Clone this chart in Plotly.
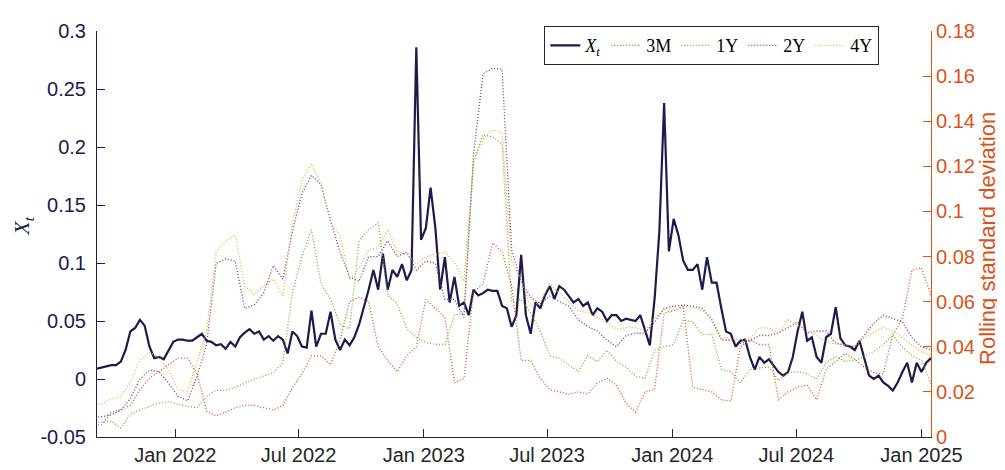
import pandas as pd
import plotly.graph_objects as go

# ---------------- data ----------------
# X_t, weekly observations starting 2021-09-08
xt_start = "2021-09-08"
xt_values = [
    0.009, 0.010, 0.011, 0.012, 0.012, 0.015, 0.025, 0.041, 0.044, 0.051,
    0.046, 0.028, 0.018, 0.019, 0.017, 0.025, 0.032, 0.034, 0.034, 0.033,
    0.033, 0.036, 0.039, 0.033, 0.032, 0.029, 0.030, 0.026, 0.032, 0.028,
    0.036, 0.040, 0.043, 0.039, 0.041, 0.034, 0.037, 0.033, 0.037, 0.034,
    0.022, 0.041, 0.037, 0.028, 0.027, 0.059, 0.028, 0.039, 0.039, 0.058,
    0.034, 0.025, 0.034, 0.029, 0.036, 0.047, 0.061, 0.077, 0.094, 0.077,
    0.108, 0.077, 0.094, 0.088, 0.099, 0.085, 0.094, 0.286, 0.120, 0.130,
    0.165, 0.130, 0.077, 0.105, 0.066, 0.088, 0.063, 0.066, 0.055, 0.077,
    0.072, 0.074, 0.077, 0.076, 0.076, 0.063, 0.061, 0.045, 0.055, 0.107,
    0.055, 0.039, 0.066, 0.061, 0.072, 0.080, 0.069, 0.080, 0.077, 0.072,
    0.066, 0.069, 0.063, 0.066, 0.055, 0.061, 0.058, 0.050, 0.055, 0.055,
    0.050, 0.052, 0.051, 0.050, 0.055, 0.041, 0.029, 0.069, 0.127, 0.238,
    0.110, 0.138, 0.124, 0.102, 0.094, 0.094, 0.099, 0.077, 0.105, 0.083,
    0.083, 0.061, 0.041, 0.039, 0.028, 0.033, 0.034, 0.019, 0.008, 0.019,
    0.014, 0.017, 0.011, 0.006, 0.003, 0.006, 0.019, 0.041, 0.058, 0.033,
    0.036, 0.019, 0.014, 0.036, 0.039, 0.062, 0.035, 0.029, 0.028, 0.025,
    0.033, 0.019, 0.003, 0.000, 0.003, -0.003, -0.006, -0.010, -0.003, 0.006,
    0.014, -0.003, 0.014, 0.006, 0.014, 0.018,
]

# Rolling standard deviations, fortnightly observations starting 2021-09-01
sd_start = "2021-09-01"
sd_3m = [
    0.005, 0.0055, 0.011, 0.012, 0.014, 0.021, 0.026, 0.029, 0.032, 0.035,
    0.035, 0.028, 0.0115, 0.0094, 0.011, 0.013, 0.014, 0.014, 0.013, 0.012,
    0.014, 0.022, 0.028, 0.036, 0.036, 0.032, 0.043, 0.060, 0.062, 0.060,
    0.040, 0.034, 0.029, 0.036, 0.040, 0.061, 0.057, 0.053, 0.024, 0.026,
    0.064, 0.068, 0.086, 0.082, 0.067, 0.034, 0.034, 0.026, 0.021, 0.020,
    0.019, 0.020, 0.019, 0.024, 0.026, 0.023, 0.015, 0.011, 0.020, 0.021,
    0.055, 0.056, 0.058, 0.022, 0.021, 0.020, 0.0165, 0.016, 0.040, 0.043,
    0.041, 0.041, 0.0165, 0.020, 0.022, 0.023, 0.0165, 0.030, 0.0335, 0.037,
    0.0345, 0.031, 0.0285, 0.028, 0.0455, 0.0525, 0.074, 0.075, 0.063,
]
sd_1y = [
    0.0065, 0.0065, 0.007, 0.004, 0.010, 0.012, 0.0136, 0.015, 0.0157, 0.0146,
    0.0136, 0.013, 0.018, 0.0207, 0.0207, 0.022, 0.024, 0.0257, 0.027, 0.0285,
    0.033, 0.064, 0.080, 0.092, 0.068, 0.061, 0.050, 0.048, 0.087, 0.092,
    0.095, 0.063, 0.059, 0.048, 0.044, 0.042, 0.041, 0.041, 0.054, 0.055,
    0.122, 0.134, 0.133, 0.130, 0.060, 0.061, 0.055, 0.047, 0.036, 0.035,
    0.032, 0.029, 0.036, 0.0335, 0.0385, 0.0335, 0.031, 0.027, 0.026, 0.0385,
    0.040, 0.041, 0.052, 0.051, 0.0455, 0.0455, 0.030, 0.029, 0.024, 0.030,
    0.0306, 0.031, 0.025, 0.0285, 0.029, 0.028, 0.0257, 0.033, 0.0356, 0.0335,
    0.034, 0.0356, 0.038, 0.041, 0.045, 0.040, 0.036, 0.034, 0.0235,
]
sd_2y = [
    0.0087, 0.009, 0.0098, 0.012, 0.017, 0.0257, 0.0296, 0.029, 0.024, 0.018,
    0.016, 0.027, 0.041, 0.077, 0.079, 0.078, 0.057, 0.0586, 0.064, 0.076,
    0.070, 0.091, 0.108, 0.116, 0.112, 0.096, 0.082, 0.071, 0.069, 0.080,
    0.080, 0.087, 0.080, 0.082, 0.074, 0.078, 0.077, 0.061, 0.061, 0.053,
    0.125, 0.161, 0.1635, 0.163, 0.083, 0.069, 0.062, 0.059, 0.0625, 0.060,
    0.058, 0.052, 0.049, 0.047, 0.043, 0.040, 0.045, 0.046, 0.046, 0.051,
    0.057, 0.058, 0.0585, 0.058, 0.057, 0.052, 0.043, 0.043, 0.0415, 0.0427,
    0.045, 0.045, 0.0462, 0.0484, 0.051, 0.046, 0.047, 0.047, 0.0415, 0.0406,
    0.040, 0.045, 0.0505, 0.054, 0.0526, 0.051, 0.044, 0.040, 0.0387,
]
sd_4y = [
    0.015, 0.0146, 0.017, 0.0179, 0.0243, 0.034, 0.0376, 0.0353, 0.030, 0.021,
    0.020, 0.034, 0.047, 0.082, 0.0867, 0.0895, 0.067, 0.063, 0.067, 0.070,
    0.0626, 0.094, 0.114, 0.121, 0.112, 0.095, 0.0895, 0.0696, 0.075, 0.083,
    0.084, 0.092, 0.082, 0.081, 0.0767, 0.080, 0.081, 0.082, 0.0775, 0.069,
    0.122, 0.132, 0.136, 0.135, 0.078, 0.0696, 0.058, 0.0597, 0.068, 0.064,
    0.060, 0.056, 0.055, 0.053, 0.051, 0.0477, 0.0485, 0.0485, 0.047, 0.0526,
    0.057, 0.056, 0.0576, 0.0576, 0.056, 0.0526, 0.044, 0.0438, 0.043, 0.0434,
    0.0484, 0.0484, 0.0458, 0.052, 0.0495, 0.0472, 0.0452, 0.042, 0.0413, 0.041,
    0.0404, 0.044, 0.0465, 0.0488, 0.047, 0.0438, 0.0406, 0.0377, 0.0363,
]

series_names = ["3M", "1Y", "2Y", "4Y"]
series_values = [sd_3m, sd_1y, sd_2y, sd_4y]

x_tick_dates = ["2022-01-01", "2022-07-01", "2023-01-01", "2023-07-01",
                "2024-01-01", "2024-07-01", "2025-01-01"]
x_tick_labels = ["Jan 2022", "Jul 2022", "Jan 2023", "Jul 2023",
                 "Jan 2024", "Jul 2024", "Jan 2025"]
left_ticks = [-0.05, 0, 0.05, 0.1, 0.15, 0.2, 0.25, 0.3]
left_labels = ["-0.05", "0", "0.05", "0.1", "0.15", "0.2", "0.25", "0.3"]
right_ticks = [0, 0.02, 0.04, 0.06, 0.08, 0.1, 0.12, 0.14, 0.16, 0.18]
right_labels = ["0", "0.02", "0.04", "0.06", "0.08", "0.1", "0.12", "0.14", "0.16", "0.18"]
left_title = "<i>X</i><sub><i>t</i></sub>"
right_title = "Rolling standard deviation"

# ---------------- styling ----------------
NAVY = "#1b1b4d"
ORANGE = "#D95319"
AXGRAY = "#262626"
colors = {"3M": "#D95319", "1Y": "#77AC30", "2Y": "#7E2F8E", "4Y": "#EDB120"}
SANS = "Liberation Sans, Arial, Helvetica, sans-serif"
SERIF = "Liberation Serif, DejaVu Serif, serif"

xt_dates = pd.date_range(xt_start, periods=len(xt_values), freq="7D")
sd_dates = pd.date_range(sd_start, periods=len(sd_3m), freq="14D")

fig = go.Figure()

for i, (name, vals) in enumerate(zip(series_names, series_values)):
    fig.add_trace(go.Scatter(
        x=sd_dates, y=vals, name=name, mode="lines", yaxis="y2",
        line=dict(color=colors[name], width=1.3, dash="1px,2px"),
        legendrank=2 + i,
    ))

fig.add_trace(go.Scatter(
    x=xt_dates, y=xt_values, name=left_title, mode="lines",
    yaxis="y", line=dict(color=NAVY, width=2.2), legendrank=1,
))

fig.update_layout(
    width=1005, height=470,
    margin=dict(l=89, r=82, t=14, b=33),
    paper_bgcolor="white", plot_bgcolor="white",
    showlegend=True,
    legend=dict(
        orientation="h", x=0.938, y=1.012, xanchor="right", yanchor="top",
        bgcolor="white", bordercolor=AXGRAY, borderwidth=1,
        font=dict(family=SERIF, size=18, color="black"),
        itemwidth=30, tracegroupgap=0,
        traceorder="normal",
    ),
    xaxis=dict(
        type="date", range=["2021-09-08", "2025-01-15"],
        tickvals=x_tick_dates, ticktext=x_tick_labels,
        ticks="inside", ticklen=8, tickcolor=AXGRAY, tickwidth=1,
        showline=True, linecolor=AXGRAY, linewidth=1, mirror=False,
        showgrid=False, zeroline=False,
        tickfont=dict(family=SANS, size=20, color=AXGRAY),
    ),
    yaxis=dict(
        range=[-0.05, 0.3], tickvals=left_ticks, ticktext=left_labels,
        ticks="inside", ticklen=8, tickcolor=NAVY, tickwidth=1,
        showline=True, linecolor=NAVY, linewidth=1,
        showgrid=False, zeroline=False, ticklabelstandoff=6,
        tickfont=dict(family=SANS, size=20, color=NAVY),
    ),
    yaxis2=dict(
        range=[0, 0.18], tickvals=right_ticks, ticktext=right_labels,
        overlaying="y", side="right",
        ticks="inside", ticklen=8, tickcolor=ORANGE, tickwidth=1,
        showline=True, linecolor=ORANGE, linewidth=1,
        showgrid=False, zeroline=False, ticklabelstandoff=0,
        tickfont=dict(family=SANS, size=20, color=ORANGE),
    ),
    annotations=[
        dict(text=left_title, xref="paper", yref="paper", x=-0.089, y=0.52,
             xanchor="center", yanchor="middle", textangle=-90, showarrow=False,
             font=dict(family=SERIF, size=22, color=NAVY)),
        dict(text=right_title, xref="paper", yref="paper", x=1.067, y=0.49,
             xanchor="center", yanchor="middle", textangle=-90, showarrow=False,
             font=dict(family=SANS, size=22, color=ORANGE)),
    ],
)

fig.write_html("out.html")
